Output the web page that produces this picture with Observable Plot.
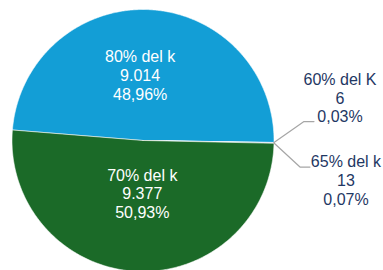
<!DOCTYPE html>
<html><head><meta charset="utf-8">
<script src="https://cdn.jsdelivr.net/npm/d3@7"></script>
<script src="https://cdn.jsdelivr.net/npm/@observablehq/plot@0.6"></script>
<style>html,body{margin:0;padding:0;background:#fff} svg{display:block}</style>
</head><body><div id="chart"></div>
<script>
// ---- data ----
const categories = ["80% del k", "60% del K", "65% del k", "70% del k"];
const values = [9014, 6, 13, 9377];
const valueLabels = ["9.014", "6", "13", "9.377"];
const percentLabels = ["48,96%", "0,03%", "0,07%", "50,93%"];
const colors = ["#139ED6", "#A5A5A5", "#4472C4", "#1B6A28"];

// ---- layout ----
const W = 383, H = 270;
const cx = 142.5, cy = 140, R = 131;
const startDeg = 274.6;
const px = v => v / R; // pixels -> data units
const inside = {"80% del k": {r: 0.5, dx: -6, dy: 0}, "70% del k": {r: 0.41, dx: 2, dy: -1}};
const outside = {
  "60% del K": {elbow: [30, -21], run: 10, text: [26, -24]},
  "65% del k": {elbow: [26, 24], run: 10, text: [36, 13]}
};

const slices = categories.map((c, i) => ({cat: c, value: values[i],
  label: `${c}\n${valueLabels[i]}\n${percentLabels[i]}`}));
const a0 = startDeg * Math.PI / 180;
const arcs = d3.pie().sort(null).value(d => d.value).startAngle(a0).endAngle(a0 + 2 * Math.PI)(slices);
const pt = (a, r) => [r * Math.sin(a), r * Math.cos(a)];

const polys = [];
arcs.forEach(a => {
  const cat = a.data.cat;
  const n = Math.max(2, Math.ceil((a.endAngle - a.startAngle) / (Math.PI / 360)));
  polys.push({cat, x: 0, y: 0});
  for (let i = 0; i <= n; i++) {
    const [x, y] = pt(a.startAngle + (a.endAngle - a.startAngle) * i / n, 1);
    polys.push({cat, x, y});
  }
  polys.push({cat, x: 0, y: 0});
});

const inLabels = [], outLabels = [], leaders = [];
arcs.forEach(a => {
  const cat = a.data.cat, mid = (a.startAngle + a.endAngle) / 2;
  if (inside[cat]) {
    const o = inside[cat];
    const [x, y] = pt(mid, o.r);
    inLabels.push({x: x + px(o.dx), y: y - px(o.dy), text: a.data.label});
  } else if (outside[cat]) {
    const o = outside[cat];
    const [ex, ey] = pt(mid, 1);
    const bx = ex + px(o.elbow[0]), by = ey - px(o.elbow[1]);
    const hx = bx + px(o.run);
    leaders.push({cat, x: ex, y: ey}, {cat, x: bx, y: by}, {cat, x: hx, y: by});
    outLabels.push({x: hx + px(o.text[0]), y: by - px(o.text[1]), text: a.data.label});
  }
});

const chart = Plot.plot({
  width: W, height: H, margin: 0,
  x: {domain: [-1, 1], range: [cx - R, cx + R], axis: null},
  y: {domain: [-1, 1], range: [cy + R, cy - R], axis: null},
  color: {domain: categories, range: colors},
  style: {fontFamily: "'Liberation Sans', Arial, sans-serif", background: "#fff"},
  marks: [
    Plot.line(polys, {x: "x", y: "y", z: "cat", fill: "cat", stroke: "#ffffff", strokeWidth: 0.8, strokeOpacity: 0.7}),
    Plot.line(leaders, {x: "x", y: "y", z: "cat", stroke: "#A6A6A6", strokeWidth: 1.2}),
    Plot.text(inLabels, {x: "x", y: "y", text: "text", fill: "#ffffff", fontSize: 16, lineHeight: 1.16}),
    Plot.text(outLabels, {x: "x", y: "y", text: "text", fill: "#1F3864", fontSize: 16, lineHeight: 1.16})
  ]
});
document.getElementById("chart").append(chart);
</script>
</body></html>
